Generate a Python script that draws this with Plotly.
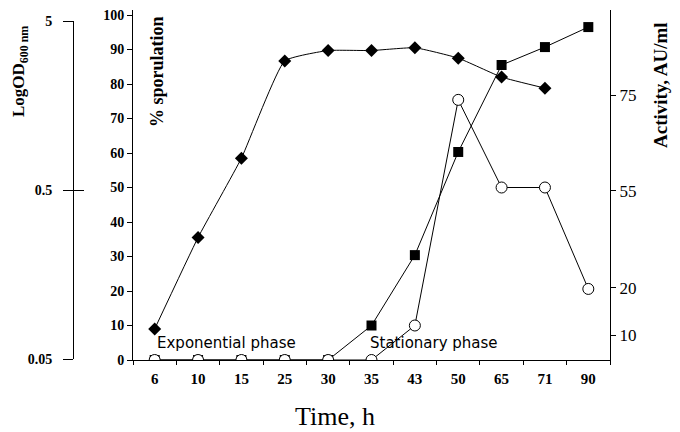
import plotly.graph_objects as go

# ---- data ----
time_h = ["6", "10", "15", "25", "30", "35", "43", "50", "65", "71", "90"]
growth_time = ["6", "10", "15", "25", "30", "35", "43", "50", "65", "71"]
growth_pos = [9, 35.5, 58.5, 86.7, 89.7, 89.7, 90.5, 87.5, 82, 78.8]
sporulation = [0, 0, 0, 0, 0, 10, 30.4, 60.3, 85.5, 90.7, 96.5]
activity_pos = [0, 0, 0, 0, 0, 0, 10, 75.4, 50, 50, 20.6]

spor_ticks = [0, 10, 20, 30, 40, 50, 60, 70, 80, 90, 100]
od_ticks = [5, 0.5, 0.05]
od_ticktext = ["5", "0.5", "0.05"]
activity_tick_pos = [7.2, 20.9, 49, 76.8]
activity_ticktext = ["10", "20", "55", "75"]

# the page body has an 8px margin, so the figure is drawn at (8, 8)
OFF = 8
W, H = 680 - OFF, 432 - OFF
SERIF = "Liberation Serif"

def px(x):
    return (x - OFF) / W

def py(y):
    return 1 - (y - OFF) / H

fig = go.Figure()

fig.add_trace(go.Scatter(
    x=growth_time, y=growth_pos, mode="lines+markers",
    line=dict(color="black", width=1, shape="spline", smoothing=0.4),
    marker=dict(symbol="diamond", size=10, color="black"),
    showlegend=False, hoverinfo="skip"))

fig.add_trace(go.Scatter(
    x=time_h, y=sporulation, mode="lines+markers",
    line=dict(color="black", width=1),
    marker=dict(symbol="square", size=10, color="black"),
    showlegend=False, hoverinfo="skip"))

fig.add_trace(go.Scatter(
    x=time_h, y=activity_pos, mode="lines+markers",
    line=dict(color="black", width=1),
    marker=dict(symbol="circle", size=11, color="white",
                line=dict(color="black", width=1)),
    showlegend=False, hoverinfo="skip"))

# invisible helper traces so the extra axes get drawn
fig.add_trace(go.Scatter(x=["6"], y=[50], xaxis="x", yaxis="y2", mode="markers",
                         marker=dict(opacity=0), showlegend=False, hoverinfo="skip"))
fig.add_trace(go.Scatter(x=[0], y=[1], xaxis="x2", yaxis="y3", mode="markers",
                         marker=dict(opacity=0), showlegend=False, hoverinfo="skip"))
fig.add_trace(go.Scatter(x=[0], y=[1], xaxis="x2", yaxis="y4", mode="markers",
                         marker=dict(opacity=0), showlegend=False, hoverinfo="skip"))

y_range = [0, 350 / 3.45]

fig.update_layout(
    width=W, height=H,
    margin=dict(l=0, r=0, t=0, b=0, autoexpand=False),
    paper_bgcolor="white", plot_bgcolor="rgba(0,0,0,0)",
    showlegend=False,
    xaxis=dict(
        domain=[px(133), px(610)], type="category", range=[-0.5, 10.5],
        showline=True, linecolor="black", linewidth=1,
        ticks="outside", tickson="boundaries", ticklen=4, tickcolor="black",
        showgrid=False, zeroline=False, anchor="y", automargin=False,
        tickfont=dict(family=SERIF, size=15, color="black", weight="bold"),
        ticklabelstandoff=5, ticklabeloverflow="allow",
    ),
    xaxis2=dict(domain=[px(133), px(610)], anchor="y3", visible=False,
                range=[-1, 1], automargin=False),
    yaxis=dict(
        domain=[py(360), py(10)], range=y_range, anchor="x", automargin=False,
        tickvals=spor_ticks, ticklabeloverflow="allow",
        showline=True, linecolor="black", linewidth=1,
        ticks="outside", ticklen=5, tickcolor="black",
        showgrid=False, zeroline=False,
        tickfont=dict(family=SERIF, size=14, color="black", weight="bold"),
    ),
    yaxis2=dict(
        overlaying="y", side="right", anchor="x", range=y_range, automargin=False,
        tickvals=activity_tick_pos, ticktext=activity_ticktext,
        ticklabeloverflow="allow",
        showline=True, linecolor="black", linewidth=1,
        ticks="outside", ticklen=5, tickcolor="black",
        showgrid=False, zeroline=False,
        tickfont=dict(family=SERIF, size=17, color="black"),
    ),
    yaxis3=dict(
        type="log", domain=[py(359), py(21)], automargin=False,
        range=[-1.30103, 0.69897], anchor="free", position=px(73), side="left",
        tickvals=od_ticks, ticktext=od_ticktext, ticklabeloverflow="allow",
        showline=True, linecolor="black", linewidth=1,
        ticks="outside", ticklen=10, tickcolor="black",
        showgrid=False, zeroline=False,
        tickfont=dict(family=SERIF, size=14, color="black", weight="bold"),
        ticklabelstandoff=8,
    ),
    yaxis4=dict(
        type="log", overlaying="y3", anchor="free", position=px(73), side="left",
        range=[-1.30103, 0.69897], automargin=False,
        tickvals=od_ticks, showticklabels=False,
        showline=False, ticks="inside", ticklen=10, tickcolor="black",
        showgrid=False, zeroline=False,
    ),
)

ann = [
    dict(text="LogOD<sub>600 nm</sub>", x=px(20), y=py(72), textangle=-90,
         font=dict(family=SERIF, size=17, color="black", weight="bold")),
    dict(text="% sporulation", x=px(157), y=py(72), textangle=-90,
         font=dict(family=SERIF, size=18, color="black", weight="bold")),
    dict(text="Activity, AU/ml", x=px(660), y=py(85), textangle=-90,
         font=dict(family=SERIF, size=19, color="black", weight="bold")),
    dict(text="Time, h", x=px(335), y=py(416),
         font=dict(family=SERIF, size=26, color="black")),
]
for a in ann:
    a.update(xref="paper", yref="paper", showarrow=False,
             xanchor="center", yanchor="middle")
    fig.add_annotation(**a)

for txt, x0 in [("Exponential phase", 155), ("Stationary phase", 368)]:
    fig.add_annotation(text=txt, x=px(x0), y=py(343), xref="paper", yref="paper",
                       showarrow=False, xanchor="left", yanchor="middle",
                       font=dict(family="DejaVu Sans", size=15, color="black"))

fig.write_html("out.html")
